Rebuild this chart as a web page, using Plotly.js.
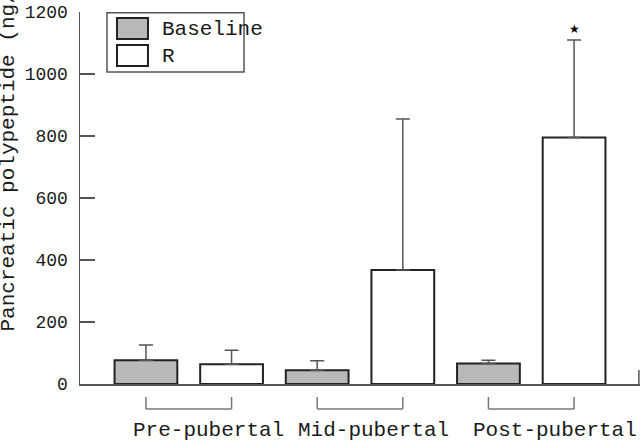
<!DOCTYPE html>
<html>
<head>
<meta charset="utf-8">
<script src="https://cdn.plot.ly/plotly-3.0.1.min.js"></script>
<style>html,body{margin:0;padding:0;background:#fff;}#chart{width:640px;height:441px;}</style>
</head>
<body>
<div id="chart"></div>
<script>
// ---- data ----
var categories = ['Pre-pubertal', 'Mid-pubertal', 'Post-pubertal'];
var seriesNames = ['Baseline', 'R'];
var baselineValues = [77, 44, 66];
var baselineErrors = [49, 31, 11];
var rValues = [64, 368, 795];
var rErrors = [45, 487, 315];
var yTickValues = [0, 200, 400, 600, 800, 1000, 1200];
var yTitle = 'Pancreatic polypeptide (ng/l)';
var significanceMark = '\u2605';
var significantGroup = 2; // index into categories

// ---- styling ----
var FONT = 'Liberation Mono, Courier New, monospace';
var AXIS = '#555555';
var INK = '#1a1a1a';

var traceBaseline = {
  type: 'bar', name: seriesNames[0], x: categories, y: baselineValues,
  marker: {color: '#b9b9b9', line: {color: '#222222', width: 2}},
  error_y: {type: 'data', array: baselineErrors, arrayminus: baselineValues.map(function(){return 0;}),
            symmetric: false, color: AXIS, thickness: 1.5, width: 7},
  showlegend: false
};
var traceR = {
  type: 'bar', name: seriesNames[1], x: categories, y: rValues,
  marker: {color: '#ffffff', line: {color: '#222222', width: 2}},
  error_y: {type: 'data', array: rErrors, arrayminus: rValues.map(function(){return 0;}),
            symmetric: false, color: AXIS, thickness: 1.5, width: 7},
  showlegend: false
};

var shapes = [];
var annotations = [];

// group brackets under the bars
categories.forEach(function(c, i) {
  var lineStyle = {color: '#777777', width: 1.5};
  shapes.push({type: 'line', xref: 'x', yref: 'paper', x0: i - 0.25, x1: i + 0.25, y0: -0.0672, y1: -0.0672, line: lineStyle});
  shapes.push({type: 'line', xref: 'x', yref: 'paper', x0: i - 0.25, x1: i - 0.25, y0: -0.0672, y1: -0.035, line: lineStyle});
  shapes.push({type: 'line', xref: 'x', yref: 'paper', x0: i + 0.25, x1: i + 0.25, y0: -0.0672, y1: -0.035, line: lineStyle});
});
// category labels (offset as in the original)
var labelOffsets = [0.117, 0.079, 0.139];
categories.forEach(function(c, i) {
  annotations.push({text: c, xref: 'x', yref: 'paper', x: i + labelOffsets[i], y: -0.124,
    xanchor: 'center', yanchor: 'middle', showarrow: false,
    font: {family: FONT, size: 21, color: INK}});
});
// right end tick of x axis
shapes.push({type: 'line', xref: 'paper', yref: 'paper', x0: 0.998, x1: 0.998, y0: 0, y1: 0.0376, line: {color: AXIS, width: 1.5}});

// manual legend
shapes.push({type: 'rect', xref: 'paper', yref: 'paper', x0: 0.0482, x1: 0.2929, y0: 0.8387, y1: 0.998, line: {color: AXIS, width: 1.5}, fillcolor: 'rgba(0,0,0,0)'});
shapes.push({type: 'rect', xref: 'paper', yref: 'paper', x0: 0.0661, x1: 0.1214, y0: 0.9274, y1: 0.9839, line: {color: '#222222', width: 2}, fillcolor: '#b9b9b9'});
shapes.push({type: 'rect', xref: 'paper', yref: 'paper', x0: 0.0661, x1: 0.1214, y0: 0.8548, y1: 0.9113, line: {color: '#222222', width: 2}, fillcolor: '#ffffff'});
annotations.push({text: seriesNames[0], xref: 'paper', yref: 'paper', x: 0.1429, y: 0.952, xanchor: 'left', yanchor: 'middle', showarrow: false, font: {family: FONT, size: 21, color: INK}});
annotations.push({text: seriesNames[1], xref: 'paper', yref: 'paper', x: 0.1429, y: 0.880, xanchor: 'left', yanchor: 'middle', showarrow: false, font: {family: FONT, size: 21, color: INK}});

// significance star
annotations.push({text: significanceMark, xref: 'x', yref: 'y', x: significantGroup + 0.25,
  y: rValues[significantGroup] + rErrors[significantGroup], yshift: 11,
  xanchor: 'center', yanchor: 'middle', showarrow: false,
  font: {family: 'DejaVu Sans', size: 12, color: '#000'}});

// y axis title
annotations.push({text: yTitle, xref: 'paper', yref: 'paper', x: -0.1268, y: 0.137,
  xanchor: 'center', yanchor: 'bottom', textangle: -90, showarrow: false,
  font: {family: FONT, size: 21, color: INK}});

var layout = {
  width: 640, height: 441,
  margin: {l: 80, r: 0, t: 12, b: 57, pad: 0},
  paper_bgcolor: '#fff', plot_bgcolor: '#fff',
  barmode: 'group', bargap: 0, bargroupgap: 0.267,
  showlegend: false,
  xaxis: {type: 'category', range: [-0.635, 2.635], showticklabels: false, ticks: '',
          showline: true, linecolor: AXIS, linewidth: 1.5, showgrid: false, zeroline: false, fixedrange: true},
  yaxis: {range: [0, 1200], tickvals: yTickValues, ticktext: yTickValues.map(String),
          ticks: 'inside', ticklen: 15, tickwidth: 1.5, tickcolor: AXIS,
          showline: true, linecolor: AXIS, linewidth: 1.5, showgrid: false, zeroline: false,
          ticklabelstandoff: 7,
          tickfont: {family: FONT, size: 18, color: INK}, fixedrange: true},
  shapes: shapes,
  annotations: annotations
};

Plotly.newPlot('chart', [traceBaseline, traceR], layout, {displayModeBar: false, staticPlot: true});
</script>
</body>
</html>
